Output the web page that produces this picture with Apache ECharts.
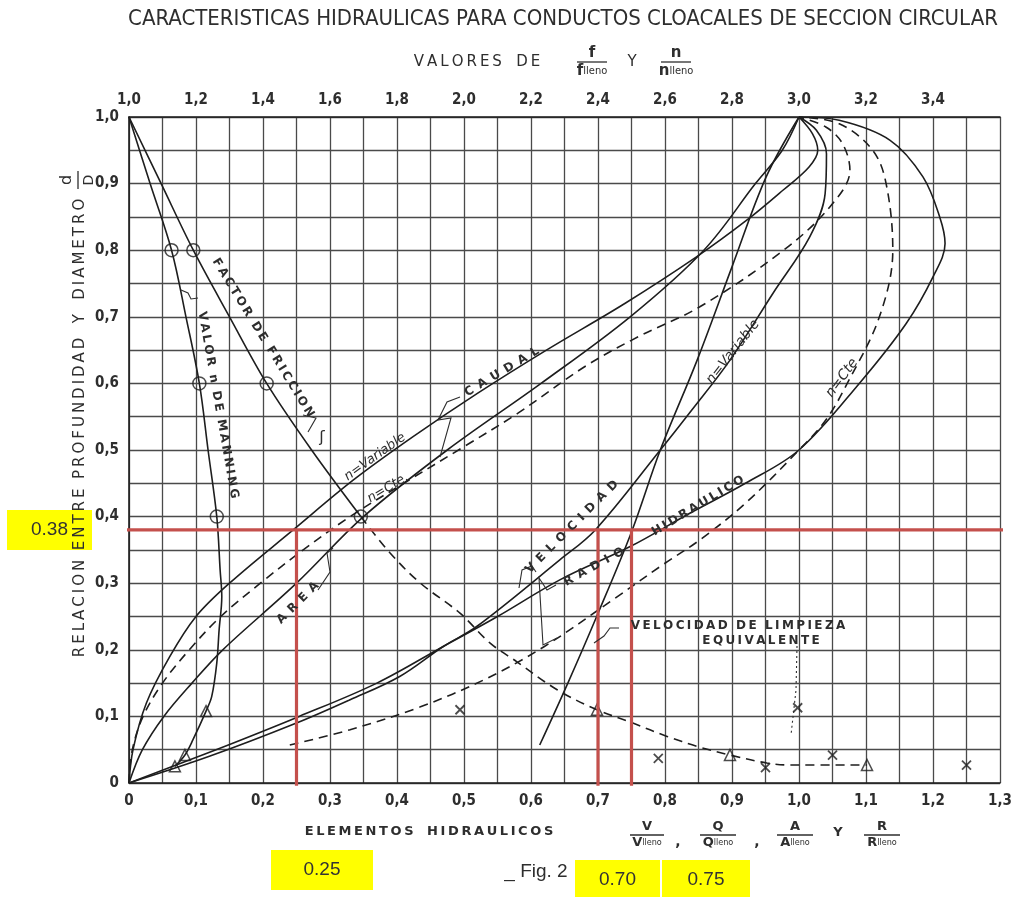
<!DOCTYPE html>
<html><head><meta charset="utf-8">
<script src="https://cdn.jsdelivr.net/npm/echarts@6/dist/echarts.min.js"></script>
<style>html,body{margin:0;padding:0;background:#fff}#c{width:1020px;height:897px}</style>
</head><body><div id="c"></div>
<script>
// ---------- tick labels ----------
const bottomTickLabels = ['0','0,1','0,2','0,3','0,4','0,5','0,6','0,7','0,8','0,9','1,0','1,1','1,2','1,3'];
const topTickLabels = ['1,0','1,2','1,4','1,6','1,8','2,0','2,2','2,4','2,6','2,8','3,0','3,2','3,4'];
const depthTickLabels = ['0','0,1','0,2','0,3','0,4','0,5','0,6','0,7','0,8','0,9','1,0'];

// ---------- curves on bottom axis: [element ratio, d/D] ----------
const areaCurve = [[0,0],[0.02,0.05],[0.052,0.1],[0.094,0.15],[0.14,0.2],[0.25,0.3],[0.35,0.4],[0.475,0.5],[0.615,0.6],[0.748,0.7],[0.858,0.8],[0.935,0.9],[0.975,0.95],[1,1]];
const caudalVariable = [[0,0],[0.006,0.05],[0.026,0.12],[0.061,0.19],[0.10,0.25],[0.15,0.30],[0.245,0.38],[0.335,0.455],[0.424,0.52],[0.52,0.585],[0.623,0.65],[0.74,0.72],[0.847,0.79],[0.922,0.845],[0.976,0.89],[1.015,0.925],[1.028,0.95],[1.02,0.975],[1,1]];
const caudalConstante = [[0,0],[0.005,0.05],[0.021,0.1],[0.05,0.15],[0.09,0.2],[0.137,0.25],[0.196,0.3],[0.26,0.35],[0.33,0.4],[0.41,0.45],[0.5,0.505],[0.58,0.555],[0.68,0.625],[0.76,0.67],[0.852,0.715],[0.977,0.8],[1.046,0.865],[1.076,0.92],[1.065,0.96],[1.04,0.985],[1,1]];
const velocidadVariable = [[0,0],[0.12,0.04],[0.25,0.09],[0.33,0.125],[0.404,0.16],[0.469,0.205],[0.519,0.235],[0.643,0.335],[0.696,0.38],[0.793,0.5],[0.84,0.56],[0.897,0.635],[0.961,0.735],[1.016,0.82],[1.039,0.885],[1.041,0.945],[1.026,0.98],[1,1]];
const velocidadConstante = [[0.24,0.057],[0.33,0.08],[0.434,0.114],[0.53,0.155],[0.62,0.205],[0.722,0.275],[0.80,0.33],[0.852,0.365],[0.92,0.42],[1.0,0.5],[1.04,0.545],[1.072,0.6],[1.12,0.7],[1.14,0.8],[1.13,0.9],[1.11,0.95],[1.06,0.99],[1,1]];
const radioHidraulico = [[0,0],[0.13,0.05],[0.254,0.1],[0.37,0.15],[0.469,0.205],[0.55,0.25],[0.643,0.305],[0.748,0.355],[0.837,0.405],[0.92,0.45],[1.0,0.5],[1.09,0.6],[1.16,0.69],[1.2,0.76],[1.218,0.81],[1.21,0.85],[1.185,0.91],[1.136,0.965],[1.06,0.995],[1,1]];
const velocidadLimpieza = [[0.613,0.057],[0.655,0.15],[0.698,0.25],[0.75,0.377],[0.793,0.5],[0.848,0.635],[0.90,0.775],[0.951,0.91],[1,1]];
const crossMarks = [[0.494,0.11],[0.79,0.037],[0.998,0.113],[1.05,0.042],[0.95,0.023],[1.25,0.027]];

// ---------- curves on top axis: [f/f lleno or n/n lleno, d/D] ----------
const manningCurve = [[1.0,1.0],[1.063,0.9],[1.127,0.8],[1.17,0.7],[1.21,0.6],[1.236,0.5],[1.262,0.4],[1.272,0.32],[1.277,0.28],[1.269,0.23],[1.262,0.18],[1.247,0.13],[1.23,0.108],[1.191,0.065],[1.167,0.042],[1.137,0.025]];
const manningCircles = [[1.127,0.8],[1.21,0.6],[1.262,0.4]];
const manningTriangles = [[1.23,0.108],[1.167,0.042],[1.137,0.025]];
const friccionSolid = [[1.0,1.0],[1.096,0.9],[1.192,0.8],[1.30,0.7],[1.411,0.6],[1.545,0.5],[1.692,0.4]];
const friccionDashed = [[1.692,0.4],[1.78,0.345],[1.87,0.30],[1.988,0.255],[2.078,0.21],[2.158,0.182],[2.278,0.14],[2.397,0.11],[2.504,0.09],[2.606,0.07],[2.696,0.055],[2.794,0.042],[2.904,0.03],[2.973,0.027],[3.203,0.027]];
const friccionCircles = [[1.192,0.8],[1.411,0.6],[1.692,0.4]];
const friccionTriangles = [[2.397,0.11],[2.794,0.042],[3.203,0.027]];

// ---------- highlighted reading ----------
const readDepth = 0.38;
const readValues = [0.25, 0.70, 0.75];
const readLineSpan = [-0.061, 1.307];

// ---------- styles ----------
const FN = "'Liberation Sans Narrow','DejaVu Sans Condensed','Roboto Condensed',sans-serif";
const FW = "'DejaVu Sans','Liberation Sans',sans-serif";
const INK = '#2e2e2e';
const RED = '#c4504c';
const sp = (s, g) => s.split('').join(g || '\u2009');

const chart = echarts.init(document.getElementById('c'), null, {renderer:'canvas'});

function curve(data, dashed, top) {
  return {type:'line', data, xAxisIndex: top ? 1 : 0, smooth:0.35, symbol:'none', silent:true,
    lineStyle:{color:'#1e1e1e', width:1.6, type: dashed ? [9,6] : 'solid'}, z:3};
}
function marks(data, symbol, size, top) {
  return {type:'scatter', data, xAxisIndex: top ? 1 : 0, symbol, symbolSize:size, silent:true,
    itemStyle:{color:'rgba(255,255,255,0)', borderColor:'#1e1e1e', borderWidth:1.5}, z:5};
}
function redLine(data) {
  return {type:'line', data, symbol:'none', clip:false, silent:true,
    lineStyle:{color:RED, width:3.2}, z:10};
}
function txt(x, y, text, deg, font, extra) {
  return Object.assign({type:'text', x, y, rotation:(deg||0)*Math.PI/180, z:20,
    style:{text, font, fill:INK, align:'center', verticalAlign:'middle'}}, extra||{});
}
function frac(x, y, num, den, fs, w, rot) {
  return {type:'group', x, y, rotation: rot||0, z:20, children:[
    {type:'text', x:0, y:-fs*0.62, style:{text:num, font:`bold ${fs}px ${FW}`, fill:INK, align:'center', verticalAlign:'middle'}},
    {type:'line', shape:{x1:-w/2, y1:0, x2:w/2, y2:0}, style:{stroke:INK, lineWidth:1.3}},
    {type:'text', x:0, y:fs*0.62, style:{text:'{a|'+den+'}{b|lleno}', fill:INK, align:'center', verticalAlign:'middle',
      rich:{a:{font:`bold ${fs}px ${FW}`, fill:INK}, b:{font:`${Math.round(fs*0.72)}px ${FN}`, fill:INK}}}}
  ]};
}
function poly(points, dash) {
  return {type:'polyline', shape:{points}, z:20, style:{stroke:INK, lineWidth:1.1, fill:null, lineDash: dash || null}};
}
function yellow(x, y, w, h, label) {
  return {type:'group', x, y, z:50, children:[
    {type:'rect', shape:{x:0, y:0, width:w, height:h}, style:{fill:'#ffff00'}},
    {type:'text', x:w/2, y:h/2, style:{text:label, font:`19px 'Liberation Sans',sans-serif`, fill:'#333', align:'center', verticalAlign:'middle'}}
  ]};
}

const labelFont = {fontFamily:FN, fontSize:15, fontWeight:'bold', color:INK};
const gridLine = {show:true, lineStyle:{color:'#4a4a4a', width:1.3}};

const option = {
  backgroundColor:'#ffffff',
  animation:false,
  grid:{left:129, top:117, width:871, height:666},
  xAxis:[
    {type:'value', position:'bottom', min:0, max:1.3, interval:0.05,
      axisLine:{show:true, onZero:false, lineStyle:{color:'#1e1e1e', width:1.6}}, axisTick:{show:false},
      splitLine:gridLine,
      axisLabel:Object.assign({margin:11, formatter:v=>{const k=Math.round(v*20); return k%2 ? '' : (bottomTickLabels[k/2]||'');}}, labelFont)},
    {type:'value', position:'top', min:1.0, max:3.6, interval:0.1,
      axisLine:{show:true, onZero:false, lineStyle:{color:'#1e1e1e', width:1.6}}, axisTick:{show:false},
      splitLine:{show:false},
      axisLabel:Object.assign({margin:9, formatter:v=>{const k=Math.round((v-1)*10); return k%2 ? '' : (topTickLabels[k/2]||'');}}, labelFont)}
  ],
  yAxis:[
    {type:'value', min:0, max:1, interval:0.05,
      axisLine:{show:true, onZero:false, lineStyle:{color:'#1e1e1e', width:1.6}}, axisTick:{show:false},
      splitLine:gridLine,
      axisLabel:Object.assign({margin:10, formatter:v=>{const k=Math.round(v*20); return k%2 ? '' : (depthTickLabels[k/2]||'');}}, labelFont)}
  ],
  series:[
    curve(areaCurve),
    curve(caudalVariable),
    curve(caudalConstante, true),
    curve(velocidadVariable),
    curve(velocidadConstante, true),
    curve(radioHidraulico),
    curve(velocidadLimpieza),
    curve(manningCurve, false, true),
    curve(friccionSolid, false, true),
    curve(friccionDashed, true, true),
    marks(manningCircles.concat(friccionCircles), 'circle', 13, true),
    marks(manningTriangles.concat(friccionTriangles), 'triangle', 11, true),
    {type:'scatter', data:crossMarks, symbol:'path://M0,0L10,10M10,0L0,10', symbolSize:9, silent:true,
      itemStyle:{color:'none', borderColor:'#1e1e1e', borderWidth:1.8}, z:5},
    redLine([[readLineSpan[0], readDepth],[readLineSpan[1], readDepth]]),
    redLine([[readValues[0], readDepth],[readValues[0], -0.004]]),
    redLine([[readValues[1], readDepth],[readValues[1], -0.004]]),
    redLine([[readValues[2], readDepth],[readValues[2], -0.004]])
  ],
  graphic:{elements:[
    // titles
    txt(563, 19, 'CARACTERISTICAS HIDRAULICAS PARA CONDUCTOS CLOACALES DE SECCION CIRCULAR', 0, `22px ${FN}`),
    txt(477, 62, sp('VALORES','\u2009') + '   ' + sp('DE','\u2009'), 0, `15px ${FW}`),
    frac(592, 62, 'f', 'f', 15, 30),
    txt(632, 62, 'Y', 0, `15px ${FW}`),
    frac(676, 62, 'n', 'n', 15, 30),
    // bottom title
    txt(429, 832, sp('ELEMENTOS','\u2009') + '   ' + sp('HIDRAULICOS','\u2009'), 0, `bold 13px ${FW}`),
    frac(647, 835, 'V', 'V', 13, 34),
    txt(678, 842, ',', 0, `bold 14px ${FW}`),
    frac(718, 835, 'Q', 'Q', 13, 36),
    txt(757, 842, ',', 0, `bold 14px ${FW}`),
    frac(795, 835, 'A', 'A', 13, 36),
    txt(838, 833, 'Y', 0, `bold 13px ${FW}`),
    frac(882, 835, 'R', 'R', 13, 36),
    txt(536, 872, '_ Fig. 2', 0, `19px 'Liberation Sans',sans-serif`),
    // left title
    txt(80, 428, sp('RELACION','\u2009') + '  ' + sp('ENTRE','\u2009') + '  ' + sp('PROFUNDIDAD','\u2009') + '   Y   ' + sp('DIAMETRO','\u2009'), 90, `15px ${FW}`),
    {type:'group', x:78, y:180, rotation:Math.PI/2, z:20, children:[
      {type:'text', x:0, y:-11, style:{text:'d', font:`16px ${FW}`, fill:INK, align:'center', verticalAlign:'middle'}},
      {type:'line', shape:{x1:-9, y1:0, x2:9, y2:0}, style:{stroke:INK, lineWidth:1.3}},
      {type:'text', x:0, y:11, style:{text:'D', font:`14px ${FW}`, fill:INK, align:'center', verticalAlign:'middle'}}
    ]},
    // curve labels
    txt(263, 338, sp('FACTOR','\u2009') + '  ' + sp('DE','\u2009') + '  ' + sp('FRICCION','\u2009'), -58.5, `bold 12px ${FW}`),
    txt(218, 405, sp('VALOR','\u2009') + '  n  ' + sp('DE','\u2009') + '  ' + sp('MANNING','\u2009'), -80, `bold 12px ${FW}`),
    txt(502, 372, sp('CAUDAL','\u2002'), 31, `bold 12px ${FW}`),
    txt(298, 603, sp('AREA','\u2002'), 45, `bold 12px ${FW}`),
    txt(572, 527, sp('VELOCIDAD','\u2002'), 45, `bold 12px ${FW}`),
    txt(594, 567, sp('RADIO','\u2002'), 29, `bold 12px ${FW}`),
    txt(698, 506, sp('HIDRAULICO','\u2009'), 31, `bold 12px ${FW}`),
    txt(738, 626, sp('VELOCIDAD','\u2009') + '  ' + sp('DE','\u2009') + '  ' + sp('LIMPIEZA','\u2009'), 0, `bold 12px ${FW}`),
    txt(761, 641, sp('EQUIVALENTE','\u2009'), 0, `bold 12px ${FW}`),
    txt(375, 457, 'n=Variable', 35.5, `italic 13px ${FW}`),
    txt(388, 488, 'n=Cte.', 31, `italic 13px ${FW}`),
    txt(733, 352, 'n=Variable', 52, `italic 14px ${FW}`),
    txt(842, 378, 'n=Cte', 53.5, `italic 14px ${FW}`),
    // leaders
    poly([[440,457],[451,418],[438,420],[447,402],[460,397]]),
    poly([[318,590],[330,572],[327,553],[333,548]]),
    poly([[519,588],[522,570],[532,566],[536,572]]),
    poly([[556,585],[547,590],[539,578],[543,645],[557,638]]),
    poly([[619,628],[610,628],[604,636],[594,643]]),
    poly([[181,290],[188,293],[191,299],[198,298]]),
    poly([[303,415],[316,418],[308,432]]),
    txt(322,438,'ʃ',0,`16px ${FW}`),
    poly([[797,646],[796,690],[791,735]], [2,3]),
    // yellow annotation boxes
    yellow(7, 510, 85, 40, '0.38'),
    yellow(271, 850, 102, 40, '0.25'),
    yellow(575, 860, 85, 40, '0.70'),
    yellow(662, 860, 88, 40, '0.75')
  ]}
};
chart.setOption(option);
</script>
</body></html>
